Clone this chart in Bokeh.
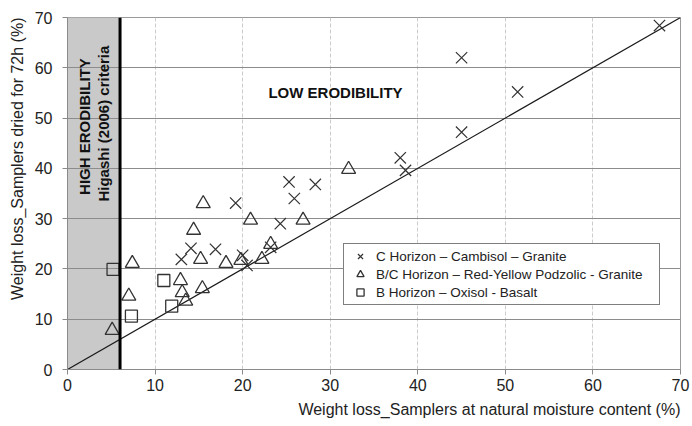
import numpy as np
from bokeh.plotting import figure
from bokeh.models import (Range1d, BoxAnnotation, Span, Label, Legend, LegendItem,
                          Title, FixedTicker)
from bokeh.embed import file_html
from bokeh.resources import INLINE

# ---- data ----
c_horizon_x = [13.0, 14.1, 16.9, 19.2, 20.0, 20.5, 23.2, 24.3, 25.3, 25.9, 28.3,
               38.0, 38.6, 45.0, 45.0, 51.4, 67.6]
c_horizon_y = [21.9, 24.1, 23.9, 33.1, 22.7, 20.7, 24.3, 29.0, 37.3, 34.0, 36.8,
               42.1, 39.6, 47.2, 62.0, 55.2, 68.4]

bc_horizon_x = [5.1, 7.0, 7.4, 12.9, 13.1, 13.5, 14.4, 15.2, 15.4, 15.5, 18.1,
                19.8, 20.9, 22.2, 23.2, 26.9, 32.1]
bc_horizon_y = [7.8, 14.6, 21.1, 17.7, 15.3, 13.6, 27.7, 21.9, 16.1, 33.0, 21.1,
                21.7, 29.7, 21.9, 24.9, 29.7, 39.8]

b_horizon_x = [5.2, 7.3, 11.0, 11.9]
b_horizon_y = [19.9, 10.6, 17.7, 12.6]

ref_line_x = [0, 70]
ref_line_y = [0, 70]

criteria_x = 6
tick_values = [0, 10, 20, 30, 40, 50, 60, 70]

series_labels = ["C Horizon \u2013 Cambisol \u2013 Granite",
                 "B/C Horizon \u2013 Red-Yellow Podzolic - Granite",
                 "B Horizon \u2013 Oxisol - Basalt"]

FONT = "Liberation Sans"
MARK = "#333333"

p = figure(width=690, height=424, output_backend="svg", toolbar_location=None,
           x_range=Range1d(0, 70), y_range=Range1d(0, 70),
           min_border_left=67, min_border_right=10, min_border_top=17,
           min_border_bottom=55)
p.background_fill_color = "white"
p.border_fill_color = "white"
p.outline_line_color = "#9a9a9a"
p.outline_line_width = 1

for ax in (p.xaxis[0], p.yaxis[0]):
    ax.ticker = FixedTicker(ticks=tick_values)
    ax.major_label_text_font = FONT
    ax.major_label_text_font_size = "16px"
    ax.major_label_text_color = "#222222"
    ax.axis_line_color = "#8a8a8a"
    ax.major_tick_line_color = "#8a8a8a"
    ax.major_tick_in = 0
    ax.major_tick_out = 5
    ax.minor_tick_line_color = None
p.xaxis.major_label_standoff = 4
p.yaxis.major_label_standoff = 10

p.ygrid.grid_line_color = "#8c8c8c"
p.ygrid.grid_line_width = 1
p.xgrid.grid_line_color = "#cccccc"
p.xgrid.grid_line_dash = "4 2"

# high erodibility zone
zone = BoxAnnotation(left=0, right=criteria_x, fill_color="#c9c9c9", fill_alpha=1,
                     line_alpha=0, level="image")
p.add_layout(zone)

p.line(ref_line_x, ref_line_y, line_color="#1a1a1a", line_width=1.2)

r_c = p.scatter(c_horizon_x, c_horizon_y, marker="x", size=16,
                line_color=MARK, line_width=1.2)
r_bc = p.scatter(bc_horizon_x, bc_horizon_y, marker="triangle", size=14,
                 line_color=MARK, line_width=1.3, fill_color=None)
r_b = p.scatter(b_horizon_x, b_horizon_y, marker="square", size=12,
                line_color=MARK, line_width=1.3, fill_color=None)

p.add_layout(Span(location=criteria_x, dimension="height", line_color="black",
                  line_width=3))

lbl_kw = dict(text_font=FONT, text_font_style="bold", text_font_size="15px",
              text_color="#111111", text_align="center", text_baseline="middle")
p.add_layout(Label(x=1.9, y=48.3, text="HIGH ERODIBILITY", angle=np.pi / 2, **lbl_kw))
p.add_layout(Label(x=4.1, y=48.9, text="Higashi (2006) criteria", angle=np.pi / 2, **lbl_kw))
p.add_layout(Label(x=30.6, y=55.1, text="LOW ERODIBILITY", **lbl_kw))

legend = Legend(items=[LegendItem(label=series_labels[0], renderers=[r_c]),
                       LegendItem(label=series_labels[1], renderers=[r_bc]),
                       LegendItem(label=series_labels[2], renderers=[r_b])],
                location=(276, 64), border_line_color="black", border_line_width=1,
                background_fill_color="white", background_fill_alpha=1,
                label_text_font=FONT, label_text_font_size="13.5px",
                label_text_color="#222222",
                glyph_width=26, glyph_height=18, label_height=18, spacing=0,
                padding=3, label_standoff=3, margin=0, label_width=280)
p.add_layout(legend)

xt = Title(text="Weight loss_Samplers at natural moisture content (%)", align="right",
           text_font=FONT, text_font_size="16px", text_font_style="normal",
           text_color="#222222", standoff=10)
p.add_layout(xt, "below")
yt = Title(text="Weight loss_Samplers dried for 72h (%)", align="right",
           text_font=FONT, text_font_size="16px", text_font_style="normal",
           text_color="#222222", standoff=11)
p.add_layout(yt, "left")

open("out.html", "w").write(file_html(p, INLINE))
